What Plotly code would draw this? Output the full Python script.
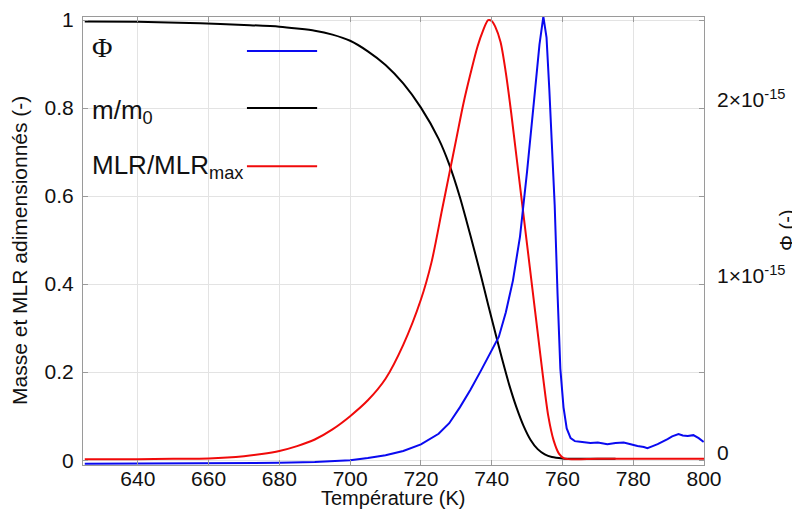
import plotly.graph_objects as go

# ---------------- data ----------------
T_mass = [625, 640, 657.6, 670, 680, 685, 690, 695, 700, 705, 710, 715, 720, 725, 728, 731,
          733, 735, 737, 739, 741, 743, 745, 747, 749, 751, 753, 755, 757, 760, 765, 770, 775]
mass = [0.997, 0.996, 0.993, 0.989, 0.985, 0.981, 0.976, 0.967, 0.953, 0.929, 0.898, 0.856,
        0.801, 0.73, 0.672, 0.598, 0.54, 0.48, 0.418, 0.353, 0.29, 0.228, 0.17, 0.12, 0.078,
        0.046, 0.025, 0.013, 0.007, 0.004, 0.003, 0.003, 0.003]

T_mlr = [625, 640, 650, 660, 670, 675, 680, 685, 690, 695, 700, 705, 710, 715, 720, 723,
         726, 728, 730, 732, 734, 736, 737.5, 739, 740, 741, 742.5, 744, 745.5, 747, 748.5,
         750, 751.5, 753, 754.5, 756, 757.5, 759, 760.5, 770, 785, 800]
mlr = [0.002, 0.002, 0.003, 0.004, 0.009, 0.014, 0.021, 0.032, 0.047, 0.07, 0.1, 0.136,
       0.185, 0.262, 0.365, 0.45, 0.57, 0.65, 0.73, 0.81, 0.878, 0.94, 0.975, 1.0, 0.998,
       0.985, 0.95, 0.88, 0.79, 0.69, 0.59, 0.49, 0.39, 0.29, 0.19, 0.1, 0.045, 0.015,
       0.004, 0.003, 0.003, 0.003]

PHI_UNIT = 1e-15
T_phi = [625, 650, 680, 690, 700, 705, 710, 715, 720, 725, 728, 731, 734, 737, 740, 742,
         744, 746, 748, 750, 752, 753.5, 754.6, 755.5, 756.3, 757, 757.8, 758.6, 759.4,
         760.3, 761.2, 762.3, 763.5, 765, 767.9, 770, 772.7, 775, 777.3, 779, 781.2, 783,
         784, 785.5, 786.9, 789.7, 791, 792.8, 794, 795.4, 797, 798.5, 799.9]
phi = [-0.02, -0.018, -0.015, -0.01, 0.0, 0.012, 0.028, 0.052, 0.09, 0.15, 0.21, 0.3,
       0.4, 0.51, 0.62, 0.7, 0.84, 1.02, 1.27, 1.64, 2.05, 2.36, 2.52, 2.4, 2.1, 1.82,
       1.45, 0.95, 0.52, 0.3, 0.18, 0.125, 0.108, 0.105, 0.097, 0.1, 0.091, 0.097, 0.1,
       0.092, 0.08, 0.075, 0.068, 0.08, 0.091, 0.12, 0.135, 0.148, 0.14, 0.137, 0.142,
       0.125, 0.103]

x_ticks = [640, 660, 680, 700, 720, 740, 760, 780, 800]
y_ticks = [0, 0.2, 0.4, 0.6, 0.8, 1]
y_tick_text = ["0", "0.2", "0.4", "0.6", "0.8", "1"]
phi_ticks = [0, 1, 2]
phi_tick_text = ["0", "1×10<sup>-15</sup>", "2×10<sup>-15</sup>"]

legend_labels = ["Φ", "m/m<sub>0</sub>", "MLR/MLR<sub>max</sub>"]
legend_colors = ["#0a0af0", "#000000", "#f00a0a"]

x_title = "Température (K)"
y_title = "Masse et MLR adimensionnés (-)"
y2_title = "Φ (-)"

# ---------------- figure ----------------
FONT = "Liberation Sans, Arial, sans-serif"
SERIF = "Liberation Serif, Times New Roman, serif"
fig = go.Figure()

fig.add_trace(go.Scatter(x=T_mass, y=mass, mode="lines", name="m/m0",
                         line=dict(color=legend_colors[1], width=2, shape="spline", smoothing=0.8)))
fig.add_trace(go.Scatter(x=T_mlr, y=mlr, mode="lines", name="MLR/MLRmax",
                         line=dict(color=legend_colors[2], width=2, shape="spline", smoothing=0.8)))
fig.add_trace(go.Scatter(x=T_phi, y=[v * PHI_UNIT for v in phi], mode="lines", name="Φ",
                         yaxis="y2", line=dict(color=legend_colors[0], width=2)))

grid = "#e3e3e3"
axcol = "#9a9a9a"
# the page body adds an 8px offset, so the figure is 792x506
fig.update_layout(
    width=792, height=506,
    margin=dict(l=75, r=96, t=9, b=49),
    paper_bgcolor="white", plot_bgcolor="white",
    showlegend=False,
    font=dict(family=FONT, color="#111111"),
    xaxis=dict(range=[624.5, 800], tickvals=x_ticks, showgrid=True, gridcolor=grid,
               showline=True, linecolor=axcol, linewidth=1, mirror="ticks",
               ticks="inside", ticklen=5, tickcolor=axcol, zeroline=False,
               tickfont=dict(size=21), ticklabelstandoff=-5, automargin=False),
    yaxis=dict(range=[-0.011, 1.007], tickvals=y_ticks, ticktext=y_tick_text,
               showgrid=True, gridcolor=grid, showline=True, linecolor=axcol, linewidth=1,
               mirror="ticks", ticks="inside", ticklen=5, tickcolor=axcol, zeroline=False,
               tickfont=dict(size=21), ticklabelstandoff=4, automargin=False),
    yaxis2=dict(overlaying="y", side="right",
                range=[-0.011 * 2.5 * PHI_UNIT, 1.007 * 2.5 * PHI_UNIT],
                tickvals=[v * PHI_UNIT for v in phi_ticks], ticktext=phi_tick_text,
                showgrid=False, zeroline=False, showline=False, ticks="",
                tickfont=dict(size=21), ticklabelstandoff=12, ticklabelshift=-8,
                automargin=False),
)

# axis titles
fig.add_annotation(xref="paper", yref="paper", x=0.5, y=-0.073, text=x_title,
                   showarrow=False, font=dict(size=20, family=FONT),
                   xanchor="center", yanchor="middle")
fig.add_annotation(xref="paper", yref="paper", x=-0.1015, y=0.48, text=y_title,
                   textangle=-90, showarrow=False, font=dict(size=21, family=FONT),
                   xanchor="center", yanchor="middle")
fig.add_annotation(xref="paper", yref="paper", x=1.134, y=0.525, text=y2_title,
                   textangle=-90, showarrow=False, font=dict(size=20, family=FONT),
                   xanchor="center", yanchor="middle")

# in-plot legend: text on the left, line sample on the right
leg_text_y = [0.933, 0.79, 0.667]
leg_line_y = [0.924, 0.797, 0.667]
leg_font = [28, 26, 26]
for lab, col, ty, ly, fs in zip(legend_labels, legend_colors, leg_text_y, leg_line_y, leg_font):
    fig.add_annotation(xref="paper", yref="paper", x=0.011, y=ty, text=lab,
                       showarrow=False, xanchor="left", yanchor="middle",
                       font=dict(size=fs, family=SERIF if lab == "Φ" else FONT, color="#111111"))
    fig.add_shape(type="line", xref="paper", yref="paper", x0=0.264, x1=0.377,
                  y0=ly, y1=ly, line=dict(color=col, width=2))

fig.write_html("out.html")
